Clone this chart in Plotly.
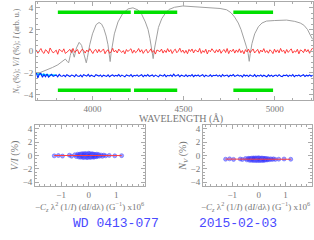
import numpy as np
import plotly.graph_objects as go

# ---------------- data ----------------
spec_wl = [3700, 3740, 3780, 3810, 3833, 3851, 3862, 3869, 3878, 3887, 3894, 3900, 3912, 3927,
           3940, 3952, 3960, 3966, 3972, 3985, 4000, 4010, 4020, 4036, 4050, 4062, 4075, 4085, 4092,
           4097, 4102, 4110, 4120, 4140, 4165, 4195, 4222, 4250, 4270, 4290, 4305, 4315, 4325, 4333,
           4341, 4351, 4362, 4380, 4400, 4420, 4450, 4496, 4550, 4620, 4700, 4736, 4760, 4780, 4800,
           4815, 4830, 4845, 4854, 4860, 4866, 4875, 4890, 4910, 4930, 4955, 5000, 5065, 5110, 5140,
           5160, 5180, 5195, 5208]
spec_I = [-2.05, -1.8, -1.5, -1.25, -0.95, -0.72, -0.95, -1.07, -0.4, 0.15, -0.2, -0.55, 0.3, 0.82,
          0.55, -0.1, -0.7, -1.07, -0.6, 0.6, 1.6, 2.1, 2.45, 2.65, 2.5, 2.1, 1.4, 0.6, -0.2,
          -0.95, -0.2, 0.7, 1.6, 2.7, 3.45, 3.9, 4.0, 3.8, 3.4, 2.7, 2.0, 1.2, 0.3, -0.68,
          0.3, 1.3, 2.2, 3.0, 3.5, 3.85, 4.05, 4.17, 4.12, 4.02, 3.94, 3.82, 3.55, 3.15, 2.6,
          2.0, 1.3, 0.4, -0.2, -0.93, -0.2, 0.7, 1.6, 2.25, 2.6, 2.78, 2.83, 2.87, 2.75, 2.6,
          2.4, 2.0, 1.5, 1.1]

v_over_i = [0.12, -0.18, 0.05, 0.25, -0.08, -0.2, 0.14, 0.02, -0.22, 0.3, 0.05, -0.15, -0.04, 0.1,
            -0.28, 0.18, 0.06, -0.05, 0.22, -0.2, -0.09, 0.08, 0.17, -0.12, 0.26, -0.1, 0.0, 0.15,
            -0.25, 0.02, 0.19, 0.07, -0.17, 0.11, -0.06, 0.24, -0.01, -0.21, 0.07, 0.16, -0.14, 0.17,
            -0.09, 0.03, 0.21, -0.23, 0.04, 0.13, -0.19, -0.05, 0.27, -0.07, 0.09, -0.16, 0.2, 0.01,
            -0.11, 0.06, -0.24, 0.16, -0.03, 0.12, 0.23, -0.18, 0.1, -0.13, 0.0, 0.25, -0.08, 0.14,
            -0.2, 0.03, 0.18, -0.15, -0.02, 0.22, -0.1, 0.07, -0.26, 0.12, 0.05, -0.04, 0.2, -0.17,
            0.09, -0.12, 0.24, -0.06, 0.15, -0.21, 0.05, 0.19, -0.14, 0.01, 0.28, -0.09, 0.11, -0.18,
            0.08, -0.23, 0.17, -0.02, 0.21, -0.16, 0.13, 0.02, -0.07, 0.26, -0.2, 0.06, -0.11, 0.18,
            -0.25, 0.1, -0.05, 0.23, 0.04, -0.15, 0.14, -0.08, 0.2, -0.19, 0.04, 0.16, -0.12, 0.25,
            -0.22, 0.09, -0.03, 0.19, -0.17, 0.12, -0.1, 0.22, -0.14, 0.07, -0.24, 0.15, -0.06, 0.2,
            -0.13, 0.08, 0.21, -0.16, 0.02, 0.17, -0.2, 0.11, -0.07, 0.24, -0.12, 0.06, -0.18, 0.14,
            0.0, -0.22, 0.19, -0.09, 0.13, -0.15, 0.26, -0.04, 0.1, -0.2, 0.16, -0.11, 0.07, 0.22,
            -0.17, 0.03, -0.08, 0.18, -0.24, 0.12, 0.05, -0.13, 0.21, -0.06, 0.15, -0.19, 0.09, 0.3]

n_v = [-2.0, -2.45, -2.1, -2.05, -2.4, -2.15, -2.35, -2.1, -2.38, -2.2, -2.12, -2.32, -2.24, -2.18,
       -2.36, -2.14, -2.28, -2.3, -2.2, -2.34, -2.16, -2.26, -2.33, -2.19, -2.23, -2.35, -2.15, -2.29,
       -2.31, -2.2, -2.36, -2.17, -2.25, -2.3, -2.14, -2.33, -2.21, -2.27, -2.34, -2.16, -2.22, -2.29,
       -2.19, -2.35, -2.21, -2.26, -2.32, -2.17, -2.35, -2.24, -2.18, -2.31, -2.22, -2.28, -2.15, -2.33,
       -2.2, -2.27, -2.35, -2.19, -2.23, -2.3, -2.16, -2.34, -2.22, -2.28, -2.18, -2.32, -2.24, -2.17,
       -2.35, -2.21, -2.29, -2.15, -2.31, -2.26, -2.19, -2.33, -2.2, -2.27, -2.36, -2.18, -2.25, -2.3,
       -2.16, -2.34, -2.22, -2.28, -2.19, -2.32, -2.12, -2.3, -2.24, -2.17, -2.35, -2.2, -2.26, -2.31,
       -2.18, -2.33, -2.22, -2.29, -2.15, -2.34, -2.21, -2.27, -2.19, -2.32, -2.24, -2.16, -2.35, -2.2,
       -2.28, -2.3, -2.17, -2.33, -2.22, -2.26, -2.18, -2.31, -2.2, -2.35, -2.16, -2.29, -2.23, -2.19,
       -2.34, -2.21, -2.27, -2.15, -2.32, -2.24, -2.18, -2.3, -2.22, -2.36, -2.17, -2.28, -2.2, -2.33,
       -2.19, -2.26, -2.31, -2.16, -2.34, -2.22, -2.29, -2.18, -2.32, -2.21, -2.25, -2.35, -2.17, -2.3,
       -2.2, -2.33, -2.23, -2.19, -2.31, -2.16, -2.28, -2.34, -2.21, -2.26, -2.18, -2.32, -2.2, -2.29,
       -2.15, -2.35, -2.22, -2.27, -2.19, -2.31, -2.24, -2.17, -2.33, -2.21, -2.28, -2.18, -2.3, -2.2]

cyan_null = [-2.02, -2.15, -2.08, -2.2, -2.1, -2.18, -2.14, -2.22, -2.16, -2.21, -2.18, -2.22]

mask_lo = [3810, 4228, 4773]
mask_hi = [4210, 4465, 4991]
mask_level = 3.6

# bottom scatter: x = -Cz lambda^2 (1/I) dI/dlambda (x1e6)
sx = [-1.25, -1.1, -0.95, -0.7, -0.62, -0.5, -0.45, -0.4, -0.36, -0.33, -0.3, -0.28, -0.25, -0.22,
      -0.2, -0.18, -0.15, -0.13, -0.1, -0.08, -0.06, -0.04, -0.02, 0.0, 0.02, 0.04, 0.06, 0.08, 0.1,
      0.12, 0.14, 0.16, 0.18, 0.2, 0.22, 0.25, 0.28, 0.3, 0.33, 0.36, 0.4, 0.45, 0.5, 0.55, 0.62,
      0.75, 0.95, 1.2, -0.32, -0.24, -0.12, -0.03, 0.05, 0.13, 0.21, 0.29, -0.2, 0.0, 0.18, -0.38]
sv = [-0.05, 0.0, -0.08, 0.05, -0.1, 0.12, -0.15, 0.2, -0.22, 0.18, -0.25, 0.24, -0.2, 0.28,
      -0.3, 0.22, -0.26, 0.3, -0.18, 0.25, -0.32, 0.15, -0.24, 0.33, -0.2, 0.27, -0.28, 0.2, -0.22,
      0.26, -0.18, 0.22, -0.25, 0.18, -0.2, 0.15, -0.17, 0.2, -0.12, 0.14, -0.1, 0.08, -0.12, 0.06,
      -0.05, 0.02, -0.04, -0.02, 0.08, -0.1, 0.12, -0.06, 0.1, -0.12, 0.05, -0.08, 0.15, 0.02, -0.14, 0.05]
sn = [-0.55, -0.5, -0.58, -0.52, -0.6, -0.45, -0.65, -0.42, -0.7, -0.45, -0.72, -0.4, -0.68, -0.38,
      -0.74, -0.42, -0.7, -0.36, -0.75, -0.4, -0.72, -0.38, -0.7, -0.35, -0.74, -0.42, -0.7, -0.4, -0.72,
      -0.38, -0.7, -0.42, -0.68, -0.44, -0.7, -0.45, -0.66, -0.46, -0.65, -0.48, -0.62, -0.5, -0.6, -0.5,
      -0.58, -0.55, -0.52, -0.56, -0.48, -0.62, -0.45, -0.6, -0.5, -0.64, -0.46, -0.58, -0.4, -0.55, -0.68, -0.5]

label_star = "WD 0413-077"
label_date = "2015-02-03"

# ---------------- figure ----------------
fig = go.Figure()
wl_grid = np.linspace(3692, 5208, len(v_over_i))
wl_grid_b = np.linspace(3692, 5208, len(n_v))
wl_cyan = np.linspace(3692, 3800, len(cyan_null))

fig.add_trace(go.Scatter(x=spec_wl, y=spec_I, mode="lines", line=dict(color="#a0a0a0", width=1),
                         xaxis="x", yaxis="y"))
fig.add_trace(go.Scatter(x=wl_grid, y=v_over_i, mode="lines", line=dict(color="#ff2a2a", width=0.9), xaxis="x", yaxis="y"))
fig.add_trace(go.Scatter(x=wl_cyan, y=cyan_null, mode="lines", line=dict(color="#00e0ff", width=1.5), xaxis="x", yaxis="y"))
fig.add_trace(go.Scatter(x=wl_grid_b, y=n_v, mode="lines", line=dict(color="#0022ff", width=1.1), xaxis="x", yaxis="y"))
for lo, hi in zip(mask_lo, mask_hi):
    for lev in (mask_level, -mask_level):
        fig.add_trace(go.Scatter(x=[lo, hi], y=[lev, lev], mode="lines", line=dict(color="#00e000", width=3.5),
                                 xaxis="x", yaxis="y"))

mk = dict(size=4, color="rgba(40,40,255,0.45)", line=dict(color="rgba(90,90,255,0.7)", width=0.8))
fig.add_trace(go.Scatter(x=sx, y=sv, mode="markers", marker=mk, xaxis="x2", yaxis="y2"))
fig.add_trace(go.Scatter(x=sx, y=sn, mode="markers", marker=mk, xaxis="x3", yaxis="y3"))
for ys, xa, ya in ((sv, "x2", "y2"), (sn, "x3", "y3")):
    b, a = np.polyfit(sx, ys, 1)
    xs = [min(sx), max(sx)]
    fig.add_trace(go.Scatter(x=xs, y=[a + b * v for v in xs], mode="lines", line=dict(color="#ff4040", width=1),
                             xaxis=xa, yaxis=ya))

tick_font = dict(family="Liberation Serif", size=9, color="#777777")
title_font = dict(family="Liberation Serif", size=10, color="#777777")
small_title = dict(family="Liberation Serif", size=8, color="#777777")
bot_title = dict(family="Liberation Serif", size=9, color="#777777")


def minor(d):
    return dict(ticks="inside", ticklen=2, tickcolor="#aaaaaa", dtick=d)


ax_common = dict(showline=True, linecolor="#aaaaaa", linewidth=1, mirror="ticks", ticks="inside",
                 ticklen=4, tickcolor="#aaaaaa", tickfont=tick_font, showgrid=False, zeroline=False,
                 automargin=False)

xlab = "\u2212<i>C<sub>z</sub></i> \u03bb<sup>2</sup> (1/<i>I</i>) (d<i>I</i>/d\u03bb) (G<sup>\u22121</sup>) x10<sup>6</sup>"

fig.update_layout(
    width=314, height=240, margin=dict(l=0, r=0, t=0, b=0), showlegend=False,
    paper_bgcolor="white", plot_bgcolor="white",
    xaxis=dict(domain=[0.1146, 0.9968], range=[3690, 5210], tickvals=[4000, 4500, 5000], minor=minor(100),
               anchor="y", **ax_common),
    yaxis=dict(domain=[0.583, 0.99], range=[-4.5, 4.5], tickvals=[-4, -2, 0, 2, 4], anchor="x", minor=minor(0.5),
               title=dict(text="<i>N<sub>V</sub></i> (%); <i>V/I</i> (%); <i>I</i> (arb. u.)",
                          font=small_title, standoff=2), **ax_common),
    xaxis2=dict(domain=[0.1115, 0.4618], range=[-1.95, 2.05], tickvals=[-1, 0, 1], anchor="y2", minor=minor(0.2),
                **ax_common),
    yaxis2=dict(domain=[0.224, 0.48], range=[-4.6, 4.6], tickvals=[-4, -2, 0, 2, 4], anchor="x2", minor=minor(0.5),
                title=dict(text="<i>V/I</i> (%)", font=title_font, standoff=2), **ax_common),
    xaxis3=dict(domain=[0.6465, 0.9936], range=[-2.1, 2.0], tickvals=[-1, 0, 1], anchor="y3", minor=minor(0.2),
                **ax_common),
    yaxis3=dict(domain=[0.224, 0.48], range=[-4.6, 4.6], tickvals=[-4, -2, 0, 2, 4], anchor="x3", minor=minor(0.5),
                title=dict(text="<i>N<sub>V</sub></i> (%)", font=title_font, standoff=2), **ax_common),
    annotations=[
        dict(text="WAVELENGTH (\u00c5)", x=0.575, y=0.506, xref="paper", yref="paper", showarrow=False,
             xanchor="center", yanchor="middle", font=title_font),
        dict(text=xlab, x=0.285, y=0.176, xref="paper", yref="paper", showarrow=False,
             xanchor="center", yanchor="top", font=bot_title),
        dict(text=xlab, x=0.815, y=0.176, xref="paper", yref="paper", showarrow=False,
             xanchor="center", yanchor="top", font=bot_title),
        dict(text=label_star, x=0.37, y=0.068, xref="paper", yref="paper", showarrow=False,
             xanchor="center", yanchor="middle",
             font=dict(family="Liberation Mono", size=13, color="#4a4aff")),
        dict(text=label_date, x=0.757, y=0.068, xref="paper", yref="paper", showarrow=False,
             xanchor="center", yanchor="middle",
             font=dict(family="Liberation Mono", size=13, color="#4a4aff")),
    ],
)

fig.write_html("out.html", config={"displayModeBar": False},
               post_script="document.body.style.margin='0';document.body.style.padding='0';")
